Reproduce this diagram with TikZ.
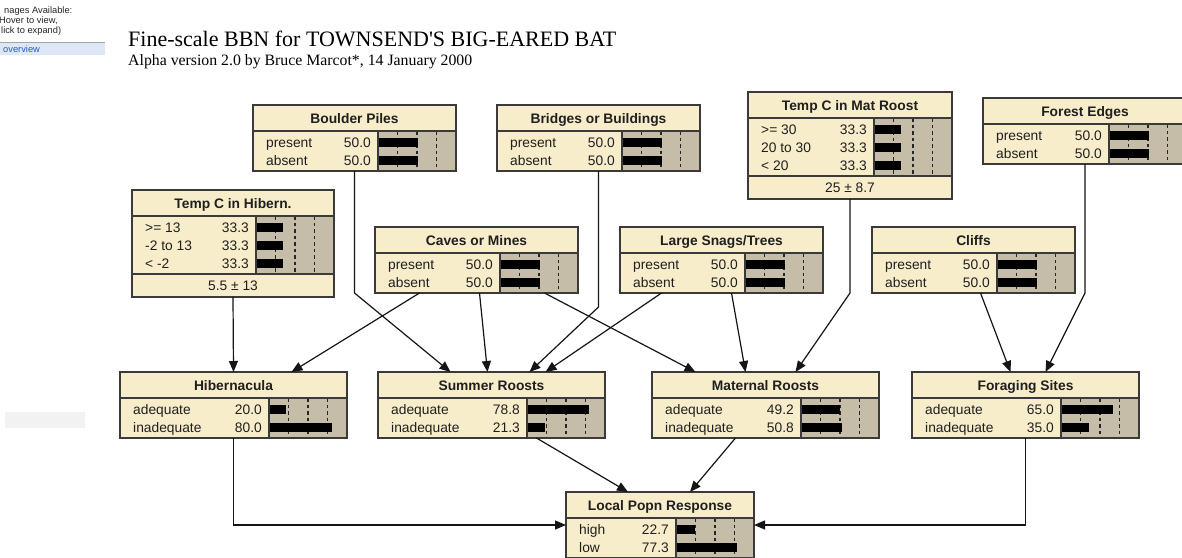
\documentclass[tikz,border=0pt]{standalone}
\usepackage{fontspec}
\setmainfont{Liberation Serif}
\newfontfamily\timesfont{Liberation Serif}
\newfontfamily\arial{Liberation Sans}
\usetikzlibrary{arrows.meta,calc}

\definecolor{cream}{HTML}{F8EDCB}
\definecolor{bargray}{HTML}{C6BDA8}
\definecolor{framegray}{HTML}{3A3A3A}
\definecolor{linkcol}{HTML}{151515}
\definecolor{navblue}{HTML}{2A5BC8}
\definecolor{navband}{HTML}{DDE7F6}

\tikzset{
  boxframe/.style={draw=framegray, line width=1.3pt},
  tickline/.style={draw=black!85, line width=1.2pt, dash pattern=on 3.5pt off 3pt},
  statetext/.style={font=\arial\fontsize{13.8}{14}\selectfont, text=black!88,
    inner sep=0pt, text height=10pt, text depth=0pt},
  headtext/.style={statetext, font=\arial\bfseries\fontsize{13.8}{14}\selectfont},
  link/.style={draw=linkcol, line width=1.2pt, -{Triangle[length=11pt,width=9pt]}},
  navtext/.style={font=\arial\fontsize{9.3}{10}\selectfont, text=black!85, inner sep=0pt, anchor=base west},
}

% belief box: name, left, top, width, number of states, height of mean band, title
\newcommand\bbnbox[7]{%
  \pgfmathsetmacro\bbRows{18*#5+4}%
  \pgfmathsetmacro\bbHt{26+\bbRows+#6}%
  \pgfmathsetmacro\bbRt{#2+#4}%
  \pgfmathsetmacro\bbSp{\bbRt-78}%
  \pgfmathsetmacro\bbTb{#3+26}%
  \pgfmathsetmacro\bbRb{\bbTb+\bbRows}%
  \node[fill=cream, inner sep=0pt, outer sep=0pt, minimum width=#4pt,
        minimum height=\bbHt pt, anchor=north west] (#1) at (#2,#3) {};
  \fill[bargray] (\bbSp,\bbTb) rectangle (\bbRt,\bbRb);
  \foreach \k in {1,2,3}{\draw[tickline] ({\bbSp+19.5*\k},\bbTb) -- ({\bbSp+19.5*\k},\bbRb);}
  \draw[boxframe] (\bbSp,\bbTb) -- (\bbSp,\bbRb);
  \draw[boxframe] (#2,\bbTb) -- (\bbRt,\bbTb);
  \draw[boxframe] (#2,\bbRb) -- (\bbRt,\bbRb);
  \draw[boxframe] (#1.north west) rectangle (#1.south east);
  \node[headtext] at ({#2+#4/2},{#3+13}) {#7};
}

% one state line: box name, index, label, percent
\newcommand\bbnrow[4]{%
  \pgfmathsetmacro\bbY{37+18*(#2-1)}%
  \node[statetext, anchor=west] at ($(#1.north west)+(13,\bbY)$) {#3};
  \node[statetext, anchor=east] at ($(#1.north east)+(-85,\bbY)$) {#4};
  \fill[black] ($(#1.north east)+(-77,{\bbY-4.5})$) rectangle ++({0.78*#4},9);
}

\begin{document}
\begin{tikzpicture}[x=1pt,y=-1pt]
\useasboundingbox (0,0) rectangle (1182,557);
\fill[white] (0,0) rectangle (1182,557);

% browser side panel
\node[navtext] (nav1) at (4,13) {nages Available:};
\node[navtext] (nav2) at (-1,23) {Hover to view,};
\node[navtext] (nav3) at (1,33) {lick to expand)};
\fill[navband] (0,42) rectangle (105,55);
\draw[black!35, line width=0.8pt] (0,42) -- (105,42);
\node[navtext, text=navblue] (nav4) at (3,52) {overview};
\fill[black!5] (5,412) rectangle (85,428);

% headings
\node[anchor=base west, inner sep=0pt, font=\timesfont\fontsize{22}{24}\selectfont] (title) at (128,46)
  {Fine-scale BBN for TOWNSEND'S BIG-EARED BAT};
\node[anchor=base west, inner sep=0pt, font=\timesfont\fontsize{15.8}{17}\selectfont] (subtitle) at (128,65)
  {Alpha version 2.0 by Bruce Marcot*, 14 January 2000};

% top row
\bbnbox{boulder}{253}{105}{203}{2}{0}{Boulder Piles}
\bbnrow{boulder}{1}{present}{50.0}
\bbnrow{boulder}{2}{absent}{50.0}

\bbnbox{bridges}{497}{105}{203}{2}{0}{Bridges or Buildings}
\bbnrow{bridges}{1}{present}{50.0}
\bbnrow{bridges}{2}{absent}{50.0}

\bbnbox{tempmat}{748}{92}{204}{3}{23}{Temp C in Mat Roost}
\bbnrow{tempmat}{1}{>= 30}{33.3}
\bbnrow{tempmat}{2}{20 to 30}{33.3}
\bbnrow{tempmat}{3}{< 20}{33.3}
\node[statetext] at ([yshift=11.5pt]tempmat.south) {25 ± 8.7};

\bbnbox{forest}{983}{98}{204}{2}{0}{Forest Edges}
\bbnrow{forest}{1}{present}{50.0}
\bbnrow{forest}{2}{absent}{50.0}

\bbnbox{temphib}{132}{190}{202}{3}{23}{Temp C in Hibern.}
\bbnrow{temphib}{1}{>= 13}{33.3}
\bbnrow{temphib}{2}{-2 to 13}{33.3}
\bbnrow{temphib}{3}{< -2}{33.3}
\node[statetext] at ([yshift=11.5pt]temphib.south) {5.5 ± 13};

% middle row
\bbnbox{caves}{375}{227}{203}{2}{0}{Caves or Mines}
\bbnrow{caves}{1}{present}{50.0}
\bbnrow{caves}{2}{absent}{50.0}

\bbnbox{snags}{620}{227}{203}{2}{0}{Large Snags/Trees}
\bbnrow{snags}{1}{present}{50.0}
\bbnrow{snags}{2}{absent}{50.0}

\bbnbox{cliffs}{872}{227}{203}{2}{0}{Cliffs}
\bbnrow{cliffs}{1}{present}{50.0}
\bbnrow{cliffs}{2}{absent}{50.0}

% habitat row
\bbnbox{hiber}{120}{372}{227}{2}{0}{Hibernacula}
\bbnrow{hiber}{1}{adequate}{20.0}
\bbnrow{hiber}{2}{inadequate}{80.0}

\bbnbox{summer}{378}{372}{227}{2}{0}{Summer Roosts}
\bbnrow{summer}{1}{adequate}{78.8}
\bbnrow{summer}{2}{inadequate}{21.3}

\bbnbox{maternal}{652}{372}{227}{2}{0}{Maternal Roosts}
\bbnrow{maternal}{1}{adequate}{49.2}
\bbnrow{maternal}{2}{inadequate}{50.8}

\bbnbox{foraging}{912}{372}{227}{2}{0}{Foraging Sites}
\bbnrow{foraging}{1}{adequate}{65.0}
\bbnrow{foraging}{2}{inadequate}{35.0}

% response
\bbnbox{local}{566}{492}{188}{2}{0}{Local Popn Response}
\bbnrow{local}{1}{high}{22.7}
\bbnrow{local}{2}{low}{77.3}

% links
\draw[link] (temphib.south) -- (hiber.north);
\draw[link] ([xshift=-57pt]caves.south) -- ([xshift=58pt]hiber.north);
\draw[link] (boulder.south) -- (boulder.south |- caves.south) -- ([xshift=-41pt]summer.north);
\draw[link] ([xshift=3pt]caves.south) -- ([xshift=-4pt]summer.north);
\draw[link] (bridges.south) -- ([yshift=-14pt]bridges.south |- caves.south) -- ([xshift=38pt]summer.north);
\draw[link] ([xshift=-60pt]snags.south) -- ([xshift=54pt]summer.north);
\draw[link] ([xshift=68pt]caves.south) -- ([xshift=-70pt]maternal.north);
\draw[link] ([xshift=10pt]snags.south) -- ([xshift=-20pt]maternal.north);
\draw[link] (tempmat.south) -- (tempmat.south |- snags.south) -- ([xshift=30pt]maternal.north);
\draw[link] ([xshift=7pt]cliffs.south) -- ([xshift=-15pt]foraging.north);
\draw[link] (forest.south) -- (forest.south |- cliffs.south) -- ([xshift=20pt]foraging.north);
\draw[link] (hiber.south) |- (local.west);
\draw[link] ([xshift=45pt]summer.south) -- ([xshift=-32pt]local.north);
\draw[link] ([xshift=-30pt]maternal.south) -- ([xshift=30pt]local.north);
\draw[link] (foraging.south) |- (local.east);
\end{tikzpicture}
\end{document}
